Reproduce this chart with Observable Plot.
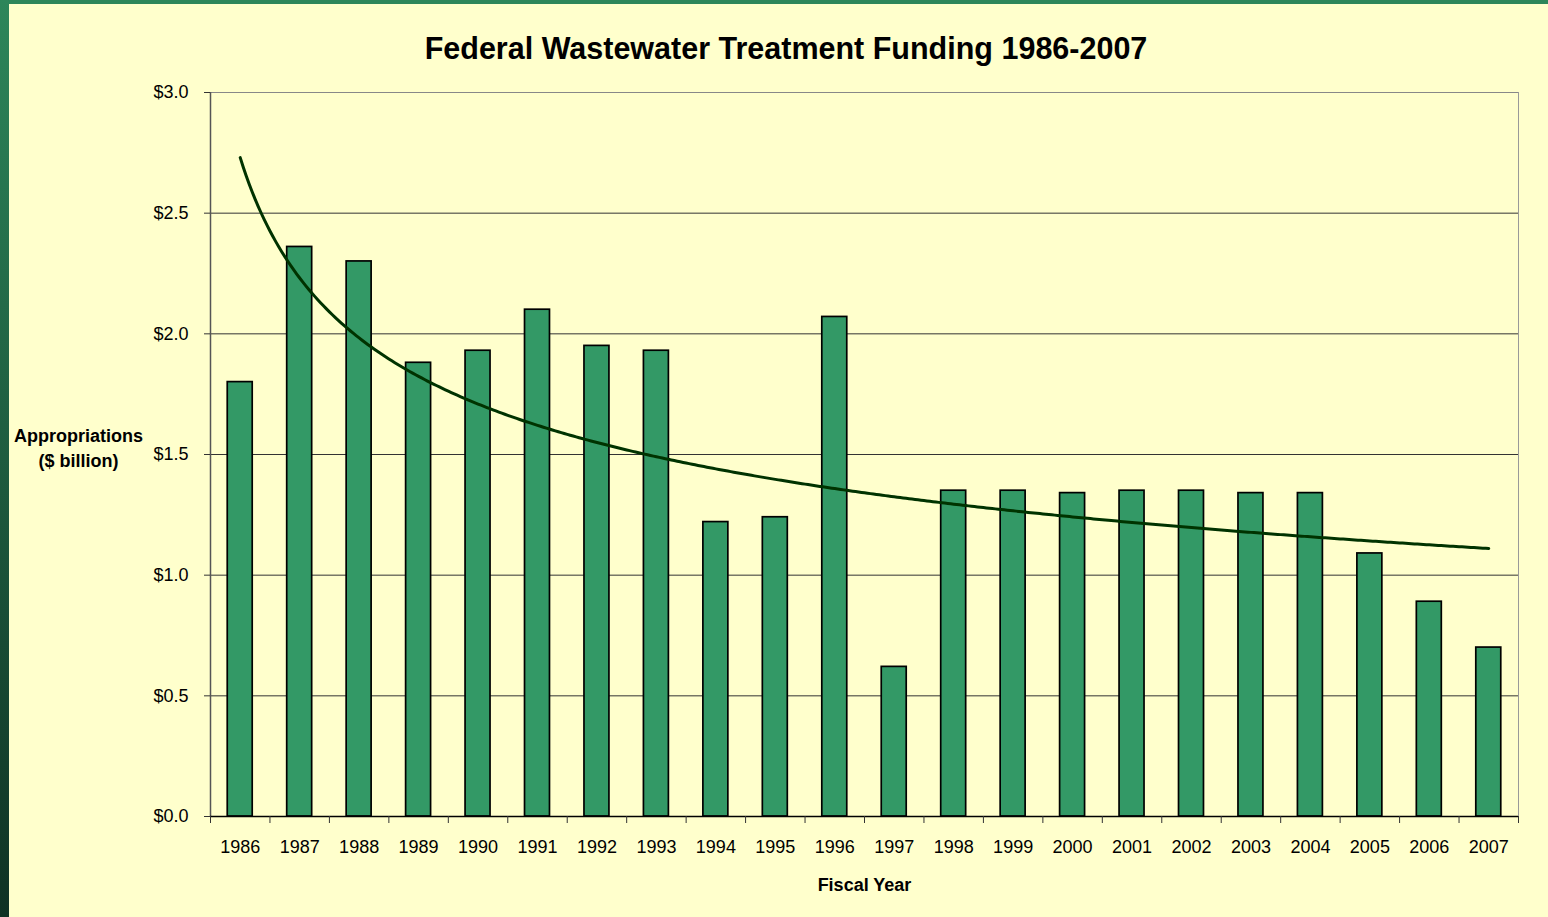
<!DOCTYPE html>
<html>
<head>
<meta charset="utf-8">
<script src="https://cdn.jsdelivr.net/npm/d3@7"></script>
<script src="https://cdn.jsdelivr.net/npm/@observablehq/plot@0.6"></script>
<style>
  html, body { margin: 0; padding: 0; background: #ffffcc; width: 1548px; height: 917px; overflow: hidden; }
  #leftstrip { position: absolute; left: 0; top: 0; width: 9px; height: 917px; background: linear-gradient(#2d865a, #0f3224); }
  #topstrip { position: absolute; left: 0; top: 0; width: 1548px; height: 4px; background: #2d865a; }
  #title { position: absolute; top: 31px; left: 24px; width: 1524px; height: 34px; line-height: 34px; text-align: center;
           font-family: "Liberation Sans", Arial, sans-serif; font-weight: bold; font-size: 30.5px; color: #000; }
  #chart { position: absolute; top: 70px; left: 0; }
</style>
</head>
<body>
<div id="topstrip"></div>
<div id="leftstrip"></div>
<div id="title">Federal Wastewater Treatment Funding 1986-2007</div>
<div id="chart"></div>
<script>
const years = ["1986","1987","1988","1989","1990","1991","1992","1993","1994","1995","1996",
               "1997","1998","1999","2000","2001","2002","2003","2004","2005","2006","2007"];
const appropriations = [1.80, 2.36, 2.30, 1.88, 1.93, 2.10, 1.95, 1.93, 1.22, 1.24, 2.07,
                        0.62, 1.35, 1.35, 1.34, 1.35, 1.35, 1.34, 1.34, 1.09, 0.89, 0.70];
const yTicks = [0, 0.5, 1.0, 1.5, 2.0, 2.5, 3.0];
const yTickLabels = ["$0.0", "$0.5", "$1.0", "$1.5", "$2.0", "$2.5", "$3.0"];
const yLabel = "Appropriations\n($ billion)";
const xLabel = "Fiscal Year";

const data = years.map((y, i) => ({year: y, idx: i + 1, value: appropriations[i]}));

// Power trendline (Excel-style): ln(y) = ln(a) + b ln(x), fitted to the data
const lx = data.map(d => Math.log(d.idx)), ly = data.map(d => Math.log(d.value));
const mx = d3.mean(lx), my = d3.mean(ly);
const b = d3.sum(lx, (v, i) => (v - mx) * (ly[i] - my)) / d3.sum(lx, v => (v - mx) ** 2);
const a = Math.exp(my - b * mx);
const trend = d3.range(1, 22.001, 0.05).map(x => ({x, y: a * Math.pow(x, b)}));

const boundaries = d3.range(0, years.length + 1).map(i => i + 0.5);
const centers = data.map(d => d.idx);

const chart = Plot.plot({
  width: 1548,
  height: 847,
  marginLeft: 210,
  marginRight: 30,
  marginTop: 22,
  marginBottom: 101,
  style: {fontFamily: "'Liberation Sans', Arial, sans-serif", fontSize: "18px", background: "transparent", color: "#000"},
  x: {type: "linear", domain: [0.5, years.length + 0.5]},
  y: {domain: [0, 3]},
  marks: [
    Plot.frame({stroke: "#999"}),
    Plot.ruleY(yTicks.filter(v => v > 0 && v < 3), {stroke: "#333", strokeWidth: 1}),
    Plot.ruleY([3], {stroke: "#888", strokeWidth: 1}),
    Plot.rectY(data, {x1: d => d.idx - 0.21, x2: d => d.idx + 0.21, y: "value",
                      fill: "#339966", stroke: "#000", strokeWidth: 1.7}),
    Plot.ruleX([0.5], {stroke: "#555", strokeWidth: 1.5}),
    Plot.ruleY([0], {stroke: "#000", strokeWidth: 1.5}),
    Plot.axisY({ticks: yTicks, tickSize: 6, tickPadding: 16, stroke: "#333",
                tickFormat: v => yTickLabels[yTicks.indexOf(v)], label: null, fontSize: 18}),
    Plot.axisX({ticks: boundaries, tickSize: 7, stroke: "#333", tickFormat: () => "", label: null}),
    Plot.axisX({ticks: centers, tickSize: 0, tickPadding: 24, tickFormat: i => years[i - 1], label: null, fontSize: 18}),
    Plot.line(trend, {x: "x", y: "y", stroke: "#003300", strokeWidth: 3}),
    Plot.text([yLabel], {frameAnchor: "left", dx: -132, dy: -8, textAnchor: "middle", lineAnchor: "middle",
                         lineHeight: 1.4, fontWeight: "bold", fontSize: 18, fill: "#000"}),
    Plot.text([xLabel], {frameAnchor: "bottom", dy: 74, textAnchor: "middle", lineAnchor: "bottom",
                         fontWeight: "bold", fontSize: 18, fill: "#000"})
  ]
});
document.getElementById("chart").appendChild(chart);
</script>
</body>
</html>
